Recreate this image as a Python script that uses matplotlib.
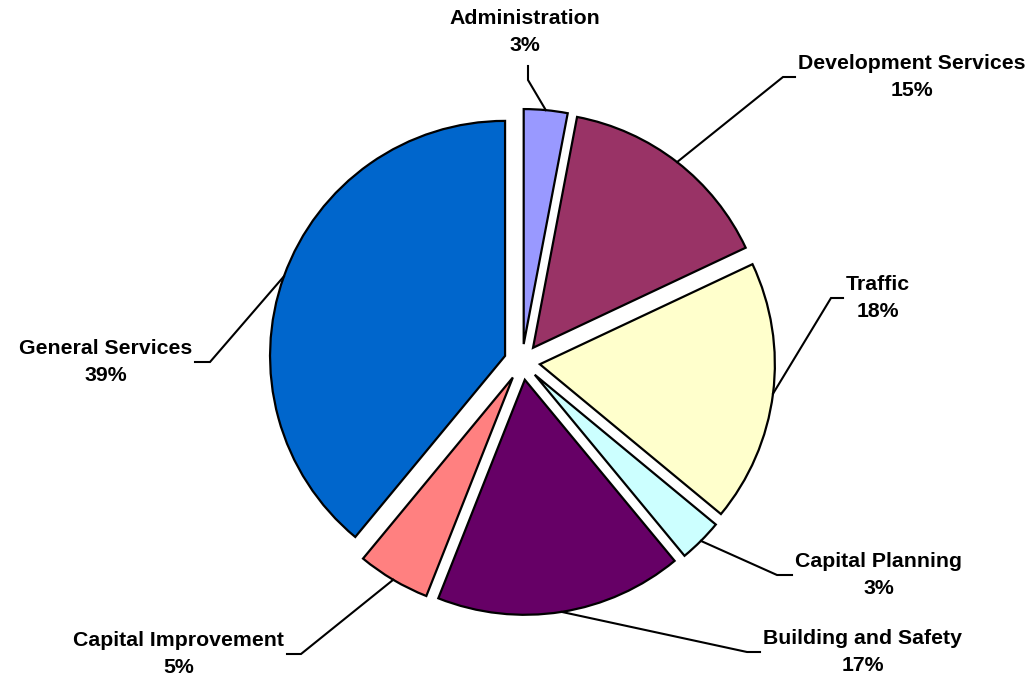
import numpy as np
import matplotlib
matplotlib.use("Agg")
from matplotlib import pyplot as plt

# slices, clockwise from 12 o'clock
categories = [
    "Administration",
    "Development Services",
    "Traffic",
    "Capital Planning",
    "Building and Safety",
    "Capital Improvement",
    "General Services",
]
shares = [3, 15, 18, 3, 17, 5, 39]

colors = ["#9999FF", "#993366", "#FFFFCC", "#CCFFFF", "#660066", "#FF8080", "#0066CC"]

W, H = 1030, 679
CX, CY, R = 522, H - 362, 235
GAP = 18  # explode distance, pixels

# label layout in pixels (y measured from top): elbow, line end, text side
leaders = [
    ((528, 80), (528, 66), "top"),
    ((783, 77), (795, 77), "left"),
    ((831, 298), (843, 298), "left"),
    ((777, 575), (792, 575), "left"),
    ((747, 652), (760, 652), "left"),
    ((301, 654), (287, 654), "right"),
    ((210, 362), (195, 362), "right"),
]

plt.rcParams["font.family"] = ["Liberation Sans", "DejaVu Sans"]

fig = plt.figure(figsize=(W / 100, H / 100), dpi=100, facecolor="white")
ax = fig.add_axes([0, 0, 1, 1])

# explode is in data units here (pixels), not a fraction of the radius
wedges, _ = ax.pie(
    shares,
    colors=colors,
    startangle=90,
    counterclock=False,
    explode=[GAP] * len(shares),
    radius=R,
    center=(CX, CY),
    wedgeprops=dict(edgecolor="black", linewidth=1.6, joinstyle="miter"),
)

ax.set_xlim(0, W)
ax.set_ylim(0, H)
ax.set_aspect("equal")
ax.axis("off")

for w, name, pct, (elbow, end, side) in zip(wedges, categories, shares, leaders):
    mid = np.deg2rad((w.theta1 + w.theta2) / 2)
    x0 = w.center[0] + w.r * np.cos(mid)
    y0 = w.center[1] + w.r * np.sin(mid)
    ex, ey = elbow[0], H - elbow[1]
    tx, ty = end[0], H - end[1]
    ax.plot([x0, ex, tx], [y0, ey, ty], color="black", lw=1.5,
            solid_joinstyle="miter")
    label = f"{name}\n{pct}%"
    kw = dict(fontsize=15.3, fontweight="bold", linespacing=1.55,
              multialignment="center")
    if side == "top":
        ax.text(tx - 3, H - 32, label, ha="center", va="center", **kw)
    elif side == "left":
        ax.text(tx + 3, ty, label, ha="left", va="center", **kw)
    else:
        ax.text(tx - 3, ty, label, ha="right", va="center", **kw)

fig.savefig("out.png", dpi=100, facecolor="white")
